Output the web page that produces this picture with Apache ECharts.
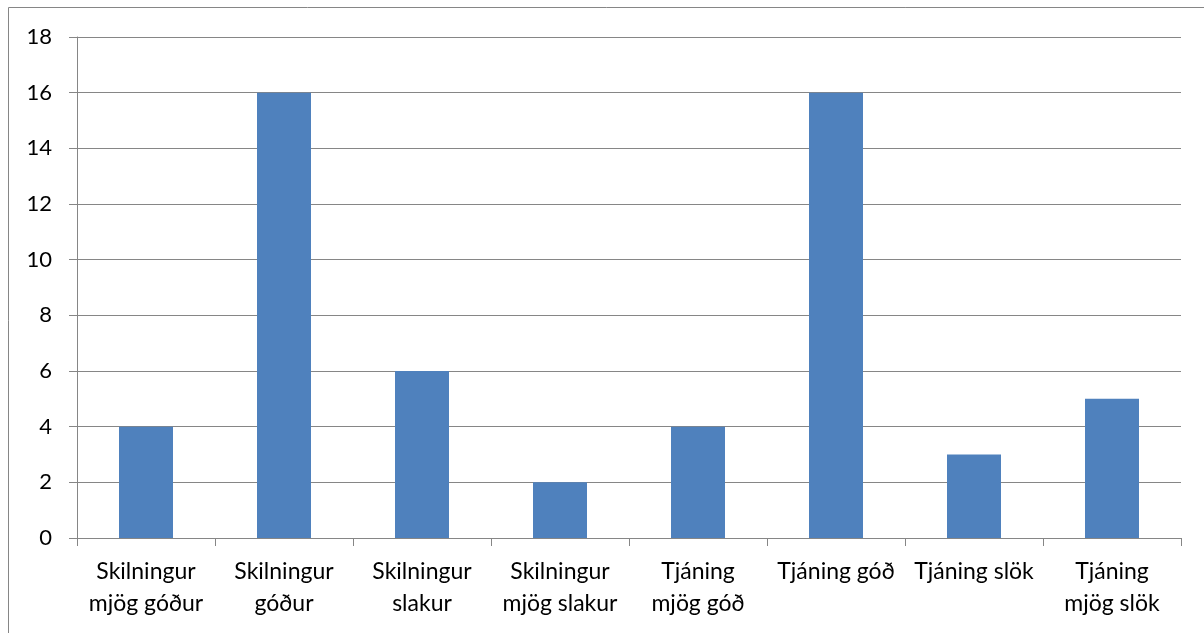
<!DOCTYPE html>
<html>
<head>
<meta charset="utf-8">
<script src="https://cdn.jsdelivr.net/npm/echarts@6/dist/echarts.min.js"></script>
<style>
  html, body { margin: 0; padding: 0; background: #fff; }
  #chart { width: 1204px; height: 633px; }
</style>
</head>
<body>
<div id="chart"></div>
<script>
// category labels (two lines where the original wraps)
const categories = [
  'Skilningur\nmjög góður',
  'Skilningur\ngóður',
  'Skilningur\nslakur',
  'Skilningur\nmjög slakur',
  'Tjáning\nmjög góð',
  'Tjáning góð',
  'Tjáning slök',
  'Tjáning\nmjög slök'
]
const counts = [4, 16, 6, 2, 4, 16, 3, 5]

const axisColor = '#868686'
const font = 'Lato, "Open Sans", sans-serif'

const chart = echarts.init(document.getElementById('chart'))

chart.setOption({
  animation: false,
  graphic: [{
    type: 'rect',
    shape: { x: 8.5, y: 7.5, width: 1220, height: 650 },
    style: { fill: 'none', stroke: axisColor, lineWidth: 1 },
    silent: true
  }],
  grid: {
    left: 77,
    right: 23,
    top: 37,
    bottom: 95
  },
  xAxis: {
    type: 'category',
    data: categories,
    axisLine: { lineStyle: { color: axisColor, width: 1 } },
    axisTick: { show: true, length: 8, alignWithLabel: false, lineStyle: { color: axisColor } },
    axisLabel: {
      interval: 0,
      margin: 18,
      color: '#000',
      fontSize: 23,
      fontFamily: font,
      lineHeight: 32,
      align: 'center'
    },
    splitLine: { show: false }
  },
  yAxis: {
    type: 'value',
    min: 0,
    max: 18,
    interval: 2,
    axisLine: { show: true, lineStyle: { color: axisColor, width: 1 } },
    axisTick: { show: true, length: 8, lineStyle: { color: axisColor } },
    axisLabel: {
      margin: 25,
      color: '#000',
      fontSize: 22,
      fontFamily: font
    },
    splitLine: { lineStyle: { color: axisColor, width: 1 } }
  },
  series: [{
    type: 'bar',
    data: counts,
    barWidth: 54,
    itemStyle: { color: '#4F81BD' }
  }]
})
</script>
</body>
</html>
